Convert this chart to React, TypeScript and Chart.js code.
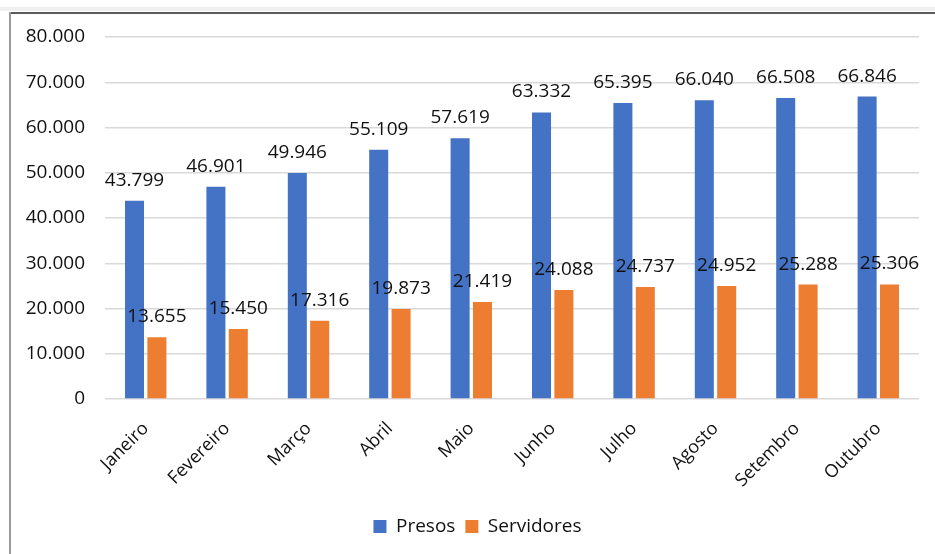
import React, { useEffect, useRef } from "react";
import { Chart, registerables } from "chart.js";

Chart.register(...registerables);

const categories = ["Janeiro", "Fevereiro", "Março", "Abril", "Maio", "Junho", "Julho", "Agosto", "Setembro", "Outubro"];
const presos = [43799, 46901, 49946, 55109, 57619, 63332, 65395, 66040, 66508, 66846];
const servidores = [13655, 15450, 17316, 19873, 21419, 24088, 24737, 24952, 25288, 25306];
const seriesNames = ["Presos", "Servidores"];
const yMax = 80000;
const yStep = 10000;

const FONT = "'Open Sans', sans-serif";

function fmt(v: number): string {
  return String(Math.round(v)).replace(/\B(?=(\d{3})+(?!\d))/g, ".");
}

const dataLabels = {
  id: "dataLabels",
  afterDatasetsDraw(chart: any) {
    const ctx = chart.ctx;
    ctx.save();
    ctx.font = `19px ${FONT}`;
    ctx.fillStyle = "#111";
    ctx.textAlign = "center";
    ctx.textBaseline = "alphabetic";
    chart.data.datasets.forEach((ds: any, di: number) => {
      const meta = chart.getDatasetMeta(di);
      meta.data.forEach((el: any, i: number) => {
        ctx.fillText(fmt(ds.data[i]), el.x, el.y - 15);
      });
    });
    ctx.restore();
  },
};

// centre the legend under the (cropped) chart area like the original
const legendShift = {
  id: "legendShift",
  afterLayout(chart: any) {
    if (chart.legend) {
      chart.legend.left += 13;
      chart.legend.right += 13;
    }
  },
};

export default function App() {
  const ref = useRef<HTMLCanvasElement>(null);
  useEffect(() => {
    if (!ref.current) return;
    const chart = new Chart(ref.current, {
      type: "bar",
      data: {
        labels: categories,
        datasets: [
          { label: seriesNames[0], data: presos, backgroundColor: "#4472C4", categoryPercentage: 0.55, barPercentage: 0.85 },
          { label: seriesNames[1], data: servidores, backgroundColor: "#ED7D31", categoryPercentage: 0.55, barPercentage: 0.85 },
        ],
      },
      options: {
        animation: false,
        responsive: false,
        maintainAspectRatio: false,
        layout: { padding: { left: 10, right: 16, top: 37, bottom: 8 } },
        plugins: {
          tooltip: { enabled: false },
          legend: {
            position: "bottom",
            labels: {
              boxWidth: 13,
              boxHeight: 13,
              padding: 10,
              color: "#111",
              font: { family: FONT, size: 19 },
            },
          },
        },
        scales: {
          x: {
            grid: { display: false },
            border: { display: false },
            ticks: {
              minRotation: 45,
              maxRotation: 45,
              padding: 11,
              color: "#111",
              font: { family: FONT, size: 18 },
            },
            afterFit(scale: any) {
              scale.height = 108;
            },
          },
          y: {
            min: 0,
            max: yMax,
            grid: { color: "#D9D9D9", lineWidth: 1.5, drawTicks: false },
            border: { display: false },
            ticks: {
              stepSize: yStep,
              padding: 20,
              color: "#111",
              font: { family: FONT, size: 19 },
              callback: (v: any) => fmt(Number(v)),
            },
            afterFit(scale: any) {
              scale.width = 95;
            },
          },
        },
      },
      plugins: [dataLabels, legendShift],
    });
    return () => chart.destroy();
  }, []);

  return (
    <div style={{ position: "fixed", left: 0, top: 0, width: 935, height: 554, background: "#fff", overflow: "hidden" }}>
      <div style={{ position: "absolute", left: 0, top: 7, width: 935, height: 4, background: "#f0f0f0" }} />
      <div style={{ position: "absolute", left: 9, top: 12, width: 926, height: 2, background: "#5a5a5a" }} />
      <div style={{ position: "absolute", left: 9, top: 12, width: 2, height: 542, background: "#9a9a9a" }} />
      <canvas ref={ref} width={935} height={554} style={{ position: "absolute", left: 0, top: 0 }} />
    </div>
  );
}
